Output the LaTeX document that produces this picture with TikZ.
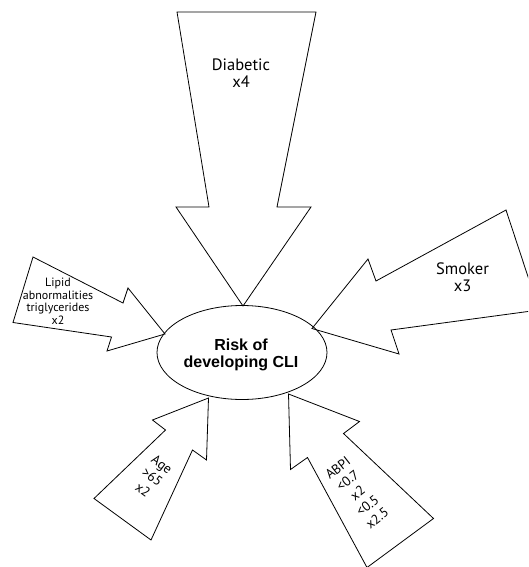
\documentclass[tikz,border=0pt]{standalone}
\usepackage{fontspec}
\setmainfont{PT Sans}
\newfontfamily\helv{Liberation Sans}
\usetikzlibrary{shapes.geometric}
\begin{document}
\begin{tikzpicture}[x=1pt,y=-1pt,
  arr/.style={draw=black,line width=0.8pt,line join=miter},
  big/.style={align=center,inner sep=0pt,font=\fontsize{16.5}{17}\selectfont},
  small/.style={align=center,inner sep=0pt,font=\fontsize{12}{12.5}\selectfont},
  mid/.style={align=center,inner sep=0pt,font=\fontsize{13.5}{16}\selectfont}]
\useasboundingbox (0,0) rectangle (528,567);
\clip (0,0) rectangle (528,567);
% Diabetic arrow
\draw[arr] (177,12) -- (316,12) -- (277,207) -- (311,207) -- (243,306)
  -- (176,207) -- (209,207) -- cycle;
% Smoker arrow
\draw[arr] (312,328.5) -- (368,259) -- (376,281) -- (506,210) -- (539,310)
  -- (391,330) -- (399,354) -- cycle;
% Lipid arrow
\draw[arr] (165,334) -- (128,288) -- (123,303) -- (33,257) -- (13,322.5)
  -- (111.5,337) -- (107,351) -- cycle;
% Age arrow
\draw[arr] (208.5,398) -- (152.5,420) -- (165.5,430) -- (94,498.5) -- (151,540)
  -- (192.5,450) -- (206.5,460) -- cycle;
% ABPI arrow
\draw[arr] (288.5,394) -- (359.5,421.5) -- (343.5,433.5) -- (433.5,518.5) -- (367,567.5)
  -- (307.5,457.5) -- (290.5,469.5) -- cycle;
% centre
\node[ellipse,draw,line width=0.8pt,minimum width=170pt,minimum height=94pt,inner sep=0pt]
  (cli) at (242,352.5) {};
\node[font=\helv\bfseries\fontsize{16}{16.5}\selectfont,align=center,inner sep=0pt]
  (clitext) at (241,355) {Risk of\\developing CLI};
% labels
\node[big] (diab) at (241,73) {Diabetic\\x4};
\node[big] (smok) at (462.5,277) {Smoker\\x3};
\node[small] (lipid) at (58,301) {Lipid\\abnormalities\\triglycerides\\x2};
\node[mid,rotate=-36] (age) at (152.5,477) {Age\\>65\\x2};
\node[mid,rotate=38] (abpi) at (357.5,493) {ABPI\\<0.7\\x2\\<0.5\\x2.5};
\end{tikzpicture}
\end{document}
